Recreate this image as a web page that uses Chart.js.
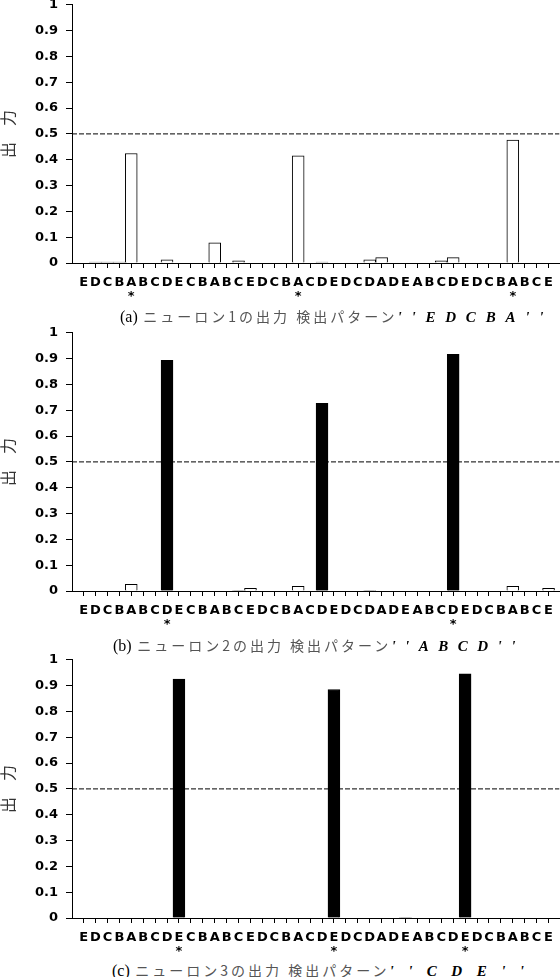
<!DOCTYPE html>
<html lang="ja">
<head>
<meta charset="utf-8">
<script src="https://cdn.jsdelivr.net/npm/chart.js@4.4.0/dist/chart.umd.min.js"></script>
<style>
  html, body { margin: 0; padding: 0; background: #fff; }
  #page { position: relative; width: 560px; height: 977px; overflow: hidden; }
  .box { position: absolute; left: 0; width: 560px; height: 314px; }
  .cap { position: absolute; white-space: nowrap; font-size: 14px; line-height: 16px; color: #000; }
  .cap .n { font-family: "Liberation Serif", serif; font-size: 16px; }
  .cap .jp { font-family: "Noto Sans CJK JP", sans-serif; color: #555; letter-spacing: 3px; margin-left: 2px; }
  .cap .p { font-family: "Liberation Serif", serif; font-style: italic; font-weight: bold; font-size: 15px; }
</style>
</head>
<body>
<div id="page">
  <div class="box" style="top:-11.4px"><canvas id="chartA"></canvas></div>
  <div class="box" style="top:316.6px"><canvas id="chartB"></canvas></div>
  <div class="box" style="top:643.8px"><canvas id="chartC"></canvas></div>

  <div class="cap" style="left:120px;top:308px"><span class="n">(a)</span> <span class="jp">ニューロン1の出力 検出パターン</span><span class="p" style="letter-spacing:9.8px">''EDCBA''</span></div>
  <div class="cap" style="left:113px;top:637px"><span class="n">(b)</span> <span class="jp">ニューロン2の出力 検出パターン</span><span class="p" style="letter-spacing:9.5px">''ABCD''</span></div>
  <div class="cap" style="left:112px;top:962px"><span class="n">(c)</span> <span class="jp">ニューロン3の出力 検出パターン</span><span class="p" style="letter-spacing:14.5px">''CDE''</span></div>
</div>

<script>
// input sequence shown under each panel
const labels = ['E','D','C','B','A','B','C','D','E','C',
                'B','A','B','C','E','D','C','B','A','C',
                'D','E','D','C','D','A','D','E','A','B',
                'C','D','E','D','C','B','A','B','C','E'];

// outputs of the three neurons, one per input step
const neuron1 = [0, 0.004, 0.004, 0.004, 0.424, 0, 0, 0.012, 0, 0,
                 0, 0.078, 0, 0.008, 0, 0, 0, 0, 0.415, 0,
                 0.004, 0, 0, 0, 0.012, 0.021, 0, 0, 0, 0,
                 0.008, 0.021, 0, 0, 0, 0, 0.476, 0, 0, 0];
const neuron2 = [0, 0, 0, 0, 0.026, 0, 0, 0.893, 0, 0,
                 0, 0, 0, 0.003, 0.01, 0, 0, 0, 0.018, 0,
                 0.727, 0, 0, 0, 0.003, 0, 0, 0, 0, 0,
                 0, 0.917, 0, 0, 0, 0, 0.018, 0, 0, 0.01];
const neuron3 = [0, 0, 0, 0, 0, 0, 0, 0, 0.925, 0,
                 0, 0, 0, 0, 0, 0, 0, 0, 0, 0,
                 0, 0.885, 0, 0, 0, 0, 0, 0.003, 0, 0,
                 0, 0, 0.946, 0, 0, 0, 0, 0, 0, 0];

// steps where the pattern ends (marked with *)
const marks1 = [5, 19, 37];
const marks2 = [8, 32];
const marks3 = [9, 22, 33];

const threshold = 0.5;
const X_MIN = 0.03, X_MAX = 40.92;

function makeChart(id, values, marks) {
  return new Chart(document.getElementById(id), {
    type: 'bar',
    data: {
      datasets: [{
        type: 'bar',
        data: values.map((v, i) => ({ x: i + 1, y: v })),
        backgroundColor: ctx => (ctx.raw && ctx.raw.y > threshold) ? '#000' : '#fff',
        borderColor: '#000',
        borderWidth: 1,
        barPercentage: 1,
        categoryPercentage: 1,
        order: 0
      }, {
        type: 'line',
        data: [{ x: X_MIN, y: threshold }, { x: X_MAX, y: threshold }],
        borderColor: '#000',
        borderWidth: 1,
        borderDash: [5, 2],
        pointRadius: 0,
        fill: false,
        order: 1
      }]
    },
    options: {
      responsive: true,
      maintainAspectRatio: false,
      animation: false,
      layout: { padding: 0 },
      plugins: { legend: { display: false }, tooltip: { enabled: false } },
      scales: {
        x: {
          type: 'linear',
          min: X_MIN,
          max: X_MAX,
          offset: false,
          afterBuildTicks: s => { s.ticks = labels.map((_, i) => ({ value: i + 1 })); },
          afterFit: s => { s.height = 40; },
          grid: { drawOnChartArea: false, drawTicks: true, tickLength: 5, color: '#000', offset: false },
          border: { color: '#000', width: 1 },
          ticks: {
            autoSkip: false, maxRotation: 0, padding: 7, color: '#000',
            font: { family: 'DejaVu Sans', size: 13, weight: 'bold', lineHeight: 1.1 },
            callback: v => [labels[v - 1], marks.includes(v) ? '*' : '']
          }
        },
        y: {
          min: 0,
          max: 1,
          afterFit: s => { s.width = 72; },
          ticks: {
            stepSize: 0.1, padding: 8, color: '#000',
            font: { family: 'DejaVu Sans', size: 13, weight: 'bold' },
            callback: v => String(+v.toFixed(1))
          },
          grid: { drawOnChartArea: false, tickLength: 6, color: '#000' },
          border: { color: '#000', width: 1 },
          title: {
            display: true, text: '出　力', color: '#333', padding: 0,
            font: { family: 'Noto Sans CJK JP', size: 16, lineHeight: 1 }
          }
        }
      }
    }
  });
}

makeChart('chartA', neuron1, marks1);
makeChart('chartB', neuron2, marks2);
makeChart('chartC', neuron3, marks3);
</script>
</body>
</html>
